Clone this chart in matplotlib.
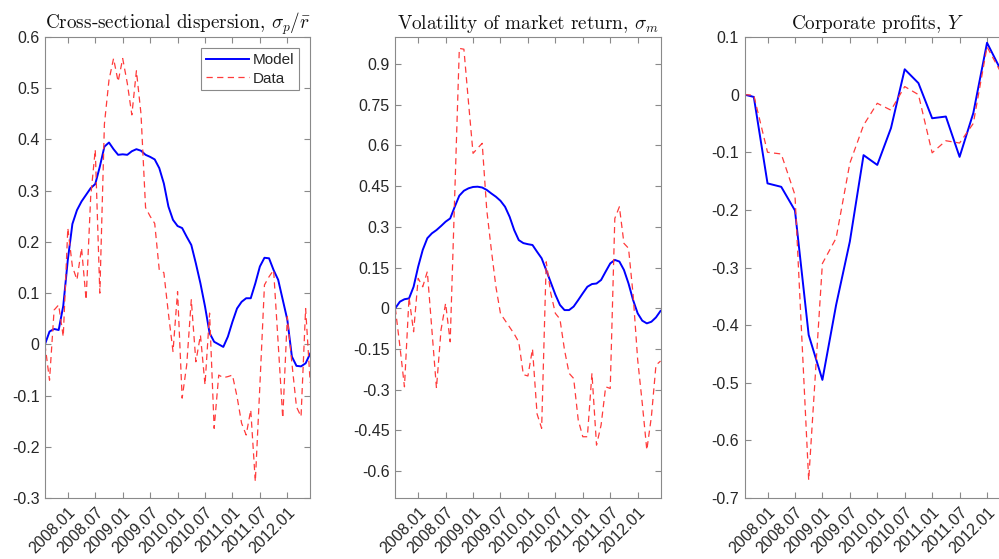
import numpy as np
import matplotlib
matplotlib.use('Agg')
import matplotlib.pyplot as plt

plt.rcParams['font.family'] = ['Liberation Sans', 'DejaVu Sans']
plt.rcParams['mathtext.fontset'] = 'cm'

# months counted from 2007.08
months = np.arange(59)
tick_months = [5, 11, 17, 23, 29, 35, 41, 47, 53]
tick_labels = ['2008.01', '2008.07', '2009.01', '2009.07', '2010.01',
               '2010.07', '2011.01', '2011.07', '2012.01']

# cross-sectional dispersion
disp_model = [0, 0.025, 0.03, 0.028, 0.075, 0.165, 0.235, 0.262, 0.279, 0.292,
              0.305, 0.313, 0.347, 0.386, 0.394, 0.381, 0.37, 0.371, 0.37, 0.377,
              0.381, 0.378, 0.37, 0.366, 0.361, 0.344, 0.314, 0.269, 0.243, 0.231,
              0.227, 0.21, 0.194, 0.158, 0.119, 0.074, 0.022, 0.005, 0, -0.005,
              0.015, 0.044, 0.07, 0.083, 0.09, 0.09, 0.119, 0.152, 0.169, 0.168,
              0.145, 0.126, 0.087, 0.048, -0.024, -0.042, -0.043, -0.037, -0.018]
disp_data = [0, -0.07, 0.067, 0.077, 0.015, 0.227, 0.152, 0.126, 0.188, 0.087,
             0.288, 0.38, 0.1, 0.43, 0.516, 0.558, 0.513, 0.558, 0.51, 0.448,
             0.534, 0.45, 0.267, 0.25, 0.236, 0.145, 0.14, 0.06, -0.014, 0.103,
             -0.105, -0.04, 0.087, -0.034, 0.018, -0.079, 0.061, -0.164, -0.06, -0.065,
             -0.063, -0.06, -0.102, -0.154, -0.177, -0.128, -0.268, -0.08, 0.116, 0.132,
             0.145, 0.002, -0.144, 0.054, -0.037, -0.122, -0.141, 0.07, -0.075]

# volatility of market return
vol_model = [0, 0.024, 0.033, 0.036, 0.079, 0.153, 0.215, 0.258, 0.276, 0.288,
             0.303, 0.319, 0.331, 0.374, 0.415, 0.433, 0.442, 0.447, 0.448, 0.445,
             0.436, 0.423, 0.411, 0.396, 0.374, 0.337, 0.288, 0.251, 0.24, 0.236,
             0.233, 0.208, 0.184, 0.14, 0.095, 0.05, 0.012, -0.007, -0.007, 0.006,
             0.03, 0.055, 0.079, 0.089, 0.091, 0.104, 0.135, 0.165, 0.178, 0.172,
             0.141, 0.091, 0.03, -0.019, -0.046, -0.056, -0.05, -0.034, -0.01]
vol_data = [0, -0.14, -0.29, 0.04, -0.087, 0.11, 0.079, 0.135, -0.08, -0.295,
            -0.08, 0.018, -0.124, 0.42, 0.958, 0.955, 0.76, 0.571, 0.59, 0.608,
            0.362, 0.215, 0.079, -0.02, -0.045, -0.07, -0.095, -0.125, -0.245, -0.25,
            -0.15, -0.39, -0.443, 0.171, 0.055, -0.019, -0.04, -0.154, -0.24, -0.259,
            -0.412, -0.474, -0.474, -0.24, -0.505, -0.431, -0.29, -0.296, 0.331, 0.374,
            0.239, 0.221, 0.05, -0.19, -0.35, -0.523, -0.4, -0.21, -0.195]

# corporate profits (quarterly)
prof_months = [0, 2, 5, 8, 11, 14, 17, 20, 23, 26, 29, 32, 35, 38, 41, 44, 47, 50, 53, 56]
prof_model = [0, -0.004, -0.154, -0.16, -0.201, -0.417, -0.495, -0.365, -0.255, -0.105,
              -0.122, -0.058, 0.044, 0.02, -0.041, -0.038, -0.108, -0.032, 0.09, 0.043]
prof_data = [0, -0.001, -0.1, -0.103, -0.174, -0.669, -0.293, -0.249, -0.119, -0.053,
             -0.015, -0.027, 0.014, 0, -0.101, -0.08, -0.084, -0.05, 0.083, 0.039]

disp_ticks = [-0.3, -0.2, -0.1, 0, 0.1, 0.2, 0.3, 0.4, 0.5, 0.6]
vol_ticks = [-0.6, -0.45, -0.3, -0.15, 0, 0.15, 0.3, 0.45, 0.6, 0.75, 0.9]
prof_ticks = [-0.7, -0.6, -0.5, -0.4, -0.3, -0.2, -0.1, 0, 0.1]

panels = [
    (r'Cross-sectional dispersion, $\sigma_p/\bar{r}$', months, disp_model, months, disp_data,
     (-0.3, 0.6), disp_ticks, 0.045),
    (r'Volatility of market return, $\sigma_m$', months, vol_model, months, vol_data,
     (-0.7, 1.0), vol_ticks, 0.3957),
    (r'Corporate profits, $Y$', prof_months, prof_model, prof_months, prof_data,
     (-0.7, 0.1), prof_ticks, 0.7454),
]

fig = plt.figure(figsize=(9.99, 5.59), dpi=100)
frame_col = '#8a8a8a'
text_col = '#262626'

for i, (title, xm, ym, xd, yd, ylim, yt, left) in enumerate(panels):
    ax = fig.add_axes([left, 0.1091, 0.2655, 0.8247])
    ax.plot(xm, ym, color='#0000ff', lw=1.4, label='Model')
    ax.plot(xd, yd, color='#ff3b3b', lw=0.9, dashes=(5, 3.5), label='Data')
    ax.set_xlim(0, 58)
    ax.set_ylim(*ylim)
    ax.set_yticks(yt)
    ax.set_yticklabels([f'{v:g}' for v in yt])
    ax.set_xticks(tick_months)
    ax.set_xticklabels(tick_labels, rotation=45, ha='right', va='top',
                       rotation_mode='anchor')
    ax.tick_params(direction='in', length=4.5, width=0.8, color=frame_col,
                   labelcolor=text_col, labelsize=11.5, top=True, right=True, pad=4)
    ax.tick_params(axis='x', pad=5)
    for s in ax.spines.values():
        s.set_color(frame_col)
        s.set_linewidth(0.8)
    ax.set_title(title, fontfamily='cmr10', fontsize=13.8, color='#111111', pad=6)
    if i == 0:
        leg = ax.legend(loc='upper right', fontsize=11, handlelength=2.8,
                        fancybox=False, borderaxespad=0.75, handletextpad=0.25,
                        labelspacing=0.3, borderpad=0.3, framealpha=1)
        leg.get_frame().set_edgecolor(frame_col)
        leg.get_frame().set_linewidth(0.8)
        for t in leg.get_texts():
            t.set_color(text_col)

fig.savefig('out.png', dpi=100)
